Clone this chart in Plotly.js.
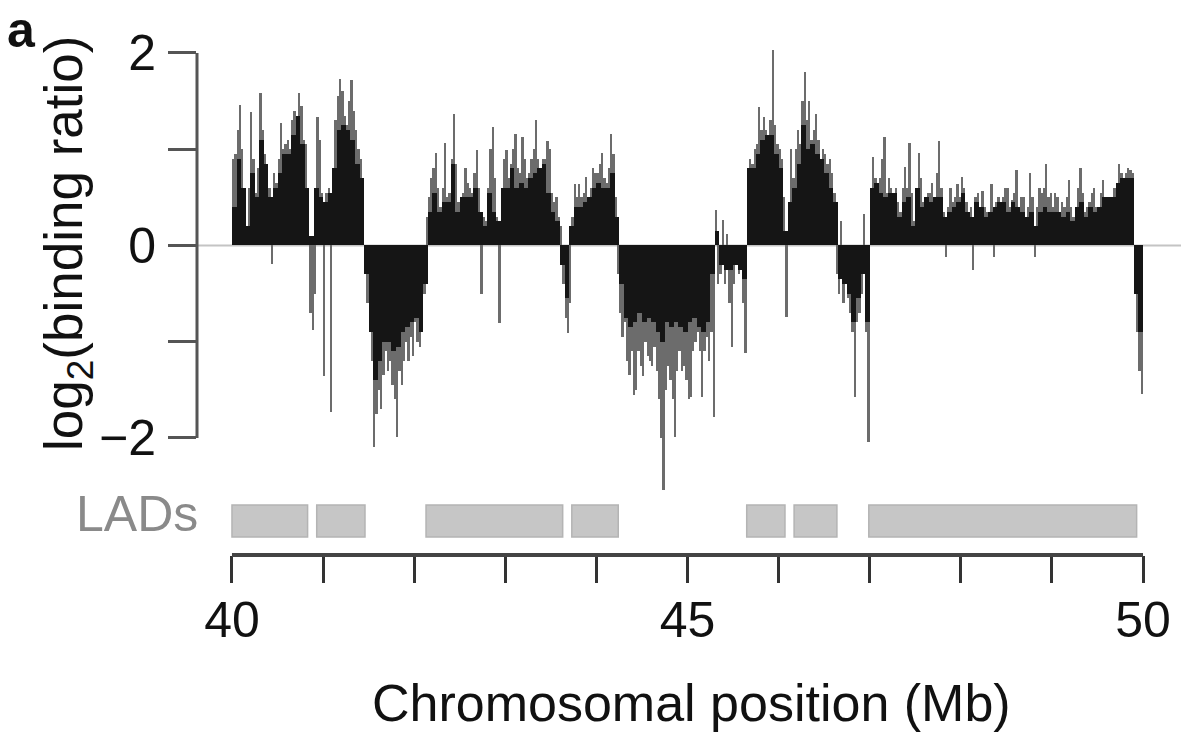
<!DOCTYPE html>
<html>
<head>
<meta charset="utf-8">
<script src="https://cdn.plot.ly/plotly-3.0.1.min.js"></script>
<style>
  html, body { margin: 0; padding: 0; background: #fff; }
  #chart { width: 1181px; height: 737px; }
</style>
</head>
<body>
<div id="chart"></div>
<script>
// ---- data ----
// fine probe tips: one value per 0.025 Mb bin, starting at 40.0 Mb
const tipStart = 40.0125;
const tipStep = 0.025;
const tipValues = [
  0.9, 0.95, 1.2, 1.46, 1.0, 0.45, 0.2, 0.6, 1.39, 0.9,
  0.55, 0.8, 1.58, 1.2, 0.95, 0.75, 0.6, -0.19, 0.75, 0.65,
  0.9, 1.27, 1.0, 1.05, 1.1, 1.0, 1.3, 1.4, 1.2, 1.58,
  1.45, 1.1, 1.05, 0.45, -0.7, -0.88, -0.5, 1.34, 1.1, 0.55,
  -1.36, 0.55, 0.6, -1.73, 0.6, 1.3, 1.55, 1.73, 1.6, 1.35,
  1.25, 1.5, 1.72, 1.4, 1.2, 1.0, 0.9, 0.7, -0.3, -0.6,
  -0.9, -1.2, -2.09, -1.75, -1.5, -1.7, -1.35, -1.1, -1.3, -1.2,
  -1.45, -1.6, -1.99, -1.3, -1.45, -1.2, -1.0, -1.2, -0.95, -1.15,
  -0.8, -1.0, -1.05, -0.85, -0.5, 0.3, 0.5, 0.7, 0.8, 0.96,
  0.6, 0.4, 0.6, 1.06, 0.5, 0.55, 0.9, 1.37, 0.85, 0.45,
  0.4, 0.55, 0.8, 0.65, 0.6, 0.55, 0.75, 0.99, 0.6, -0.5,
  0.3, 0.25, 0.6, 1.0, 1.23, 0.7, 0.3, -0.81, 0.4, 0.9,
  0.99, 0.7, 0.85, 1.0, 1.16, 0.8, 0.75, 1.13, 0.9, 0.7,
  0.75, 0.9, 1.0, 1.3, 0.9, 0.8, 0.9, 0.9, 1.09, 1.0,
  0.55, 0.45, 0.5, 0.3, 0.2, -0.4, -0.75, -0.91, -0.6, 0.3,
  0.64, 0.5, 0.64, 0.5, 0.55, 0.71, 0.5, 0.6, 0.8, 0.75,
  0.75, 0.85, 0.96, 0.7, 0.65, 0.8, 1.16, 0.95, 0.5, -0.3,
  -0.7, -0.95, -0.8, -1.2, -1.35, -1.1, -1.55, -1.5, -1.1, -1.25,
  -1.36, -1.0, -1.15, -1.2, -1.25, -1.05, -1.3, -1.6, -2.0, -2.54,
  -1.5, -1.25, -1.4, -1.6, -1.99, -1.3, -1.1, -1.3, -1.25, -1.4,
  -1.6, -1.57, -1.1, -1.0, -0.9, -1.1, -1.57, -1.1, -0.95, -1.2,
  -0.9, -1.78, 0.37, -0.4, -0.3, 0.26, -0.4, 0.12, -0.6, -1.05,
  -0.4, -0.2, -0.3, -0.25, -0.6, -1.12, 0.8, 0.9, 0.85, 1.0,
  1.05, 1.44, 1.2, 1.34, 1.2, 1.1, 1.3, 2.03, 1.25, 1.05,
  1.0, 0.9, 0.5, -0.74, 0.4, 1.0, 0.7, 1.0, 1.2, 1.05,
  1.5, 1.8, 1.3, 1.5, 1.1, 1.2, 1.37, 1.1, 0.9, 1.0,
  0.95, 0.85, 0.9, 0.75, 0.55, -0.3, -0.5, 0.25, -0.6, -0.4,
  -0.55, -0.7, -0.9, -1.57, -0.8, -0.7, -0.5, 0.33, -0.9, -2.04,
  0.5, 0.92, 0.7, 0.65, 0.7, 0.9, 1.13, 0.55, 0.7, 0.6,
  0.55, 0.6, 0.45, 0.35, 0.6, 0.82, 0.6, 1.06, 0.55, 0.25,
  0.35, 0.96, 0.7, 0.45, 0.5, 0.55, 0.55, 0.65, 0.5, 0.75,
  1.09, 0.6, 0.35, -0.12, 0.4, 0.6, 0.45, 0.5, 0.64, 0.5,
  0.71, 0.6, 0.45, 0.35, 0.4, -0.25, 0.5, 0.55, 0.4, 0.57,
  0.4, 0.35, 0.3, 0.64, -0.12, 0.45, 0.5, 0.45, 0.5, 0.6,
  0.6, 0.4, 0.47, 0.55, 0.78, 0.4, 0.5, 0.5, 0.3, 0.4,
  0.75, 0.5, -0.12, 0.4, 0.6, 0.55, 0.6, 0.85, 0.5, 0.55,
  0.4, 0.55, 0.5, 0.35, 0.45, 0.4, 0.5, 0.68, 0.4, 0.3,
  0.35, 0.6, 0.8, 0.55, 0.35, 0.4, 0.45, 0.55, 0.6, 0.4,
  0.35, 0.55, 0.68, 0.5, 0.45, 0.5, 0.45, 0.6, 0.6, 0.85,
  0.75, 0.7, 0.75, 0.8, 0.78, 0.75, -0.2, -0.9, -1.3, -1.54
];

// dense core of the signal: one value per 0.05 Mb bin, starting at 40.0 Mb
const coreStart = 40.025;
const coreStep = 0.05;
const coreValues = [
  0.4, 0.9, 0.6, 0.2, 0.75, 0.5, 1.1, 0.85, 0.5, 0.6,
  0.75, 0.95, 0.95, 1.15, 1.35, 1.05, 0.6, 0.1, 0.6, 0.5,
  0.45, 0.55, 0.8, 1.2, 1.25, 1.2, 1.1, 0.85, 0.7, -0.3,
  -0.9, -1.4, -1.2, -1.0, -1.0, -1.1, -1.05, -0.9, -0.85, -0.8,
  -0.75, -0.9, -0.4, 0.35, 0.55, 0.35, 0.45, 0.45, 0.85, 0.35,
  0.5, 0.5, 0.5, 0.6, 0.35, 0.2, 0.55, 0.35, 0.25, 0.6,
  0.6, 0.8, 0.6, 0.65, 0.6, 0.7, 0.75, 0.8, 0.85, 0.55,
  0.35, 0.25, -0.2, -0.55, 0.2, 0.4, 0.4, 0.45, 0.5, 0.6,
  0.65, 0.6, 0.6, 0.75, 0.3, -0.4, -0.75, -0.85, -0.8, -0.7,
  -0.8, -0.75, -0.8, -0.9, -1.0, -0.8, -0.85, -0.8, -0.85, -0.9,
  -0.8, -0.75, -0.85, -0.9, -0.8, -0.3, 0.15, -0.2, -0.25, -0.25,
  -0.2, -0.25, -0.35, 0.8, 0.8, 0.95, 1.1, 1.15, 1.15, 0.95,
  0.8, 0.15, 0.45, 0.6, 0.85, 1.25, 1.0, 1.05, 0.95, 0.9,
  0.75, 0.6, 0.45, -0.35, -0.4, -0.5, -0.8, -0.55, -0.3, -0.8,
  0.6, 0.65, 0.55, 0.5, 0.55, 0.55, 0.3, 0.45, 0.5, 0.2,
  0.6, 0.4, 0.5, 0.45, 0.5, 0.5, 0.3, 0.35, 0.4, 0.45,
  0.55, 0.35, 0.3, 0.45, 0.4, 0.3, 0.35, 0.4, 0.45, 0.45,
  0.35, 0.45, 0.4, 0.35, 0.3, 0.35, 0.2, 0.35, 0.4, 0.35,
  0.35, 0.35, 0.3, 0.35, 0.25, 0.4, 0.45, 0.3, 0.4, 0.35,
  0.4, 0.5, 0.5, 0.5, 0.65, 0.7, 0.7, 0.7, -0.5, -0.9
];

// lamina-associated domains (Mb)
const ladStart = [40.0, 40.93, 42.13, 43.73, 45.65, 46.17, 46.99];
const ladEnd   = [40.83, 41.46, 43.63, 44.24, 46.07, 46.64, 49.93];

// axis ticks
const xTickVals = [40, 41, 42, 43, 44, 45, 46, 47, 48, 49, 50];
const xTickText = ['40', '', '', '', '', '45', '', '', '', '', '50'];
const yTickVals = [-2, -1, 0, 1, 2];
const yTickText = ['\u22122', '', '0', '', '2'];

// ---- build ----
const tipX = tipValues.map((_, i) => tipStart + i * tipStep);
const coreX = coreValues.map((_, i) => coreStart + i * coreStep);

const FONT = '"Liberation Sans", Arial, Helvetica, sans-serif';

const traces = [
  {
    type: 'bar', x: tipX, y: tipValues, width: tipStep,
    marker: { color: '#6c6c6c', line: { width: 0 } },
    hoverinfo: 'skip'
  },
  {
    type: 'bar', x: coreX, y: coreValues, width: coreStep,
    marker: { color: '#151515', line: { width: 0 } },
    hoverinfo: 'skip'
  }
];

const LAD_TOP = -2.696, LAD_BOTTOM = -3.029;

const shapes = [
  { type: 'line', xref: 'paper', yref: 'y', x0: 0, x1: 1, y0: 0, y1: 0,
    line: { color: '#c4c4c4', width: 2 }, layer: 'below' },
  { type: 'line', xref: 'paper', yref: 'y', x0: 0, x1: 0, y0: -2, y1: 2,
    line: { color: '#555555', width: 3 }, layer: 'above' },
  { type: 'line', xref: 'x', yref: 'paper', x0: 40, x1: 50, y0: 0, y1: 0,
    line: { color: '#444444', width: 4 }, layer: 'above' }
];
ladStart.forEach((s, i) => {
  shapes.push({
    type: 'rect', xref: 'x', yref: 'y', x0: s, x1: ladEnd[i], y0: LAD_BOTTOM, y1: LAD_TOP,
    fillcolor: '#c6c6c6', line: { color: '#b4b4b4', width: 1.5 }, layer: 'above'
  });
});

const annotations = [
  { text: '<b>a</b>', xref: 'paper', yref: 'paper', x: -0.1951, y: 1.02,
    xanchor: 'left', yanchor: 'middle', showarrow: false,
    font: { family: FONT, size: 50, color: '#111' } },
  { text: 'log<sub>2</sub>(binding ratio)', xref: 'paper', yref: 'paper',
    x: -0.131, y: 0.604, textangle: -90, xanchor: 'center', yanchor: 'middle',
    showarrow: false, font: { family: FONT, size: 53, color: '#111' } },
  { text: 'LADs', xref: 'paper', yref: 'paper', x: 0.003, y: 0.08,
    xanchor: 'right', yanchor: 'middle', showarrow: false,
    font: { family: FONT, size: 50, color: '#8a8a8a' } },
  { text: 'Chromosomal position (Mb)', xref: 'paper', yref: 'paper',
    x: 0.503, y: -0.287, xanchor: 'center', yanchor: 'middle', showarrow: false,
    font: { family: FONT, size: 52, color: '#111' } }
];

const layout = {
  width: 1181, height: 737,
  margin: { l: 197, r: 0, t: 40, b: 182, pad: 0 },
  paper_bgcolor: '#ffffff', plot_bgcolor: '#ffffff',
  barmode: 'overlay', bargap: 0,
  showlegend: false,
  font: { family: FONT, color: '#111' },
  xaxis: {
    range: [39.616, 50.417], tickmode: 'array', tickvals: xTickVals, ticktext: xTickText,
    ticks: 'outside', ticklen: 27, tickwidth: 3, tickcolor: '#333',
    showline: false, showgrid: false, zeroline: false,
    tickfont: { family: FONT, size: 50, color: '#111' }, ticklabelstandoff: -6,
    fixedrange: true
  },
  yaxis: {
    range: [-3.216, 2.135], tickmode: 'array', tickvals: yTickVals, ticktext: yTickText,
    ticks: 'outside', ticklen: 28, tickwidth: 3, tickcolor: '#555',
    showline: false, showgrid: false, zeroline: false,
    tickfont: { family: FONT, size: 50, color: '#111' }, ticklabelstandoff: 2,
    fixedrange: true
  },
  shapes: shapes,
  annotations: annotations
};

Plotly.newPlot('chart', traces, layout, { staticPlot: true, displayModeBar: false });
</script>
</body>
</html>
